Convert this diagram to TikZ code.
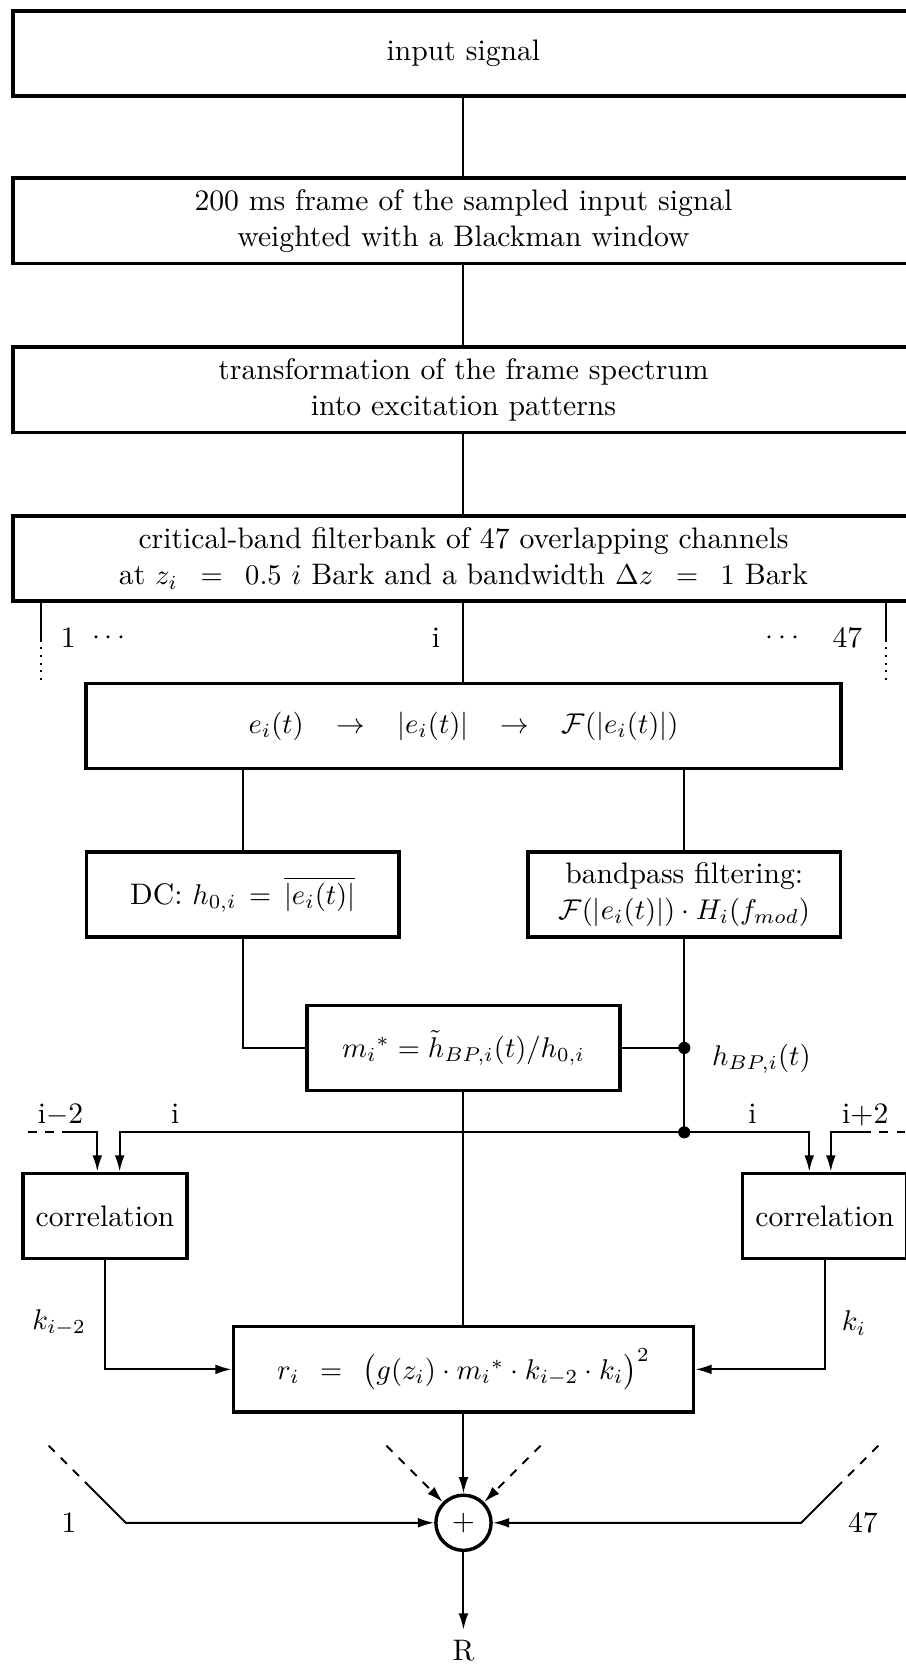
\documentclass[tikz,border=0pt]{standalone}
\usepackage{amsmath,amssymb}
\usetikzlibrary{positioning,arrows.meta}

\begin{document}
\begin{tikzpicture}[font=\fontsize{10.4}{12.6}\selectfont,
  blk/.style={draw,line width=1.2pt,align=center,minimum height=1.05cm,inner sep=2pt},
  ln/.style={line width=0.7pt},
  arr/.style={ln,-{Latex[length=2mm,width=1.2mm]}},
  lbl/.style={inner sep=1pt}]
\useasboundingbox (0,0) rectangle (11.15,-20.5);
\node[blk,minimum width=11.1cm] (sig) at (5.71,-0.66) {input signal};
\node[blk,minimum width=11.1cm] (frame) at (5.71,-2.72) {200 ms frame of the sampled input signal\\weighted with a Blackman window};
\node[blk,minimum width=11.1cm] (trans) at (5.71,-4.80) {transformation of the frame spectrum\\into excitation patterns};
\node[blk,minimum width=11.1cm] (fb) at (5.71,-6.88) {critical-band filterbank of 47 overlapping channels\\at $z_i\ \,=\ \,0.5\ i$ Bark and a bandwidth $\Delta z\ \,=\ \,1$ Bark};
\node[blk,minimum width=9.3cm] (env) at (5.71,-8.945) {$e_i(t)\ \ \,\to\ \ \,|e_i(t)|\ \ \,\to\ \ \,\mathcal{F}(|e_i(t)|)$};
\node[blk,minimum width=3.85cm] (dc) at (2.99,-11.02) {DC: $h_{0,i}\,=\,\overline{|e_i(t)|}$};
\node[blk,minimum width=3.85cm] (bp) at (8.43,-11.02) {bandpass filtering:\\$\mathcal{F}(|e_i(t)|)\cdot H_i(f_{mod})$};
\node[blk,minimum width=3.86cm] (mod) at (5.71,-12.91) {${m_i}^*=\tilde{h}_{BP,i}(t)/h_{0,i}$};
\node[blk,minimum width=2.02cm] (corl) at (1.294,-14.98) {correlation};
\node[blk,minimum width=2.02cm] (corr) at (10.16,-14.98) {correlation};
\node[blk,minimum width=5.67cm] (rbox) at (5.71,-16.87) {$r_i\,\;=\,\;\bigl(g(z_i)\cdot{m_i}^*\cdot k_{i-2}\cdot k_i\bigr)^2$};
\node[draw,circle,line width=1.2pt,minimum size=0.68cm,inner sep=0pt] (sum) at (5.71,-18.76) {+};
\node (R) at (5.71,-20.33) {R};

\draw[ln] (sig) -- (frame) -- (trans) -- (fb) -- (env);
\coordinate (ch1) at (0.51,-7.88); \coordinate (ch47) at (10.91,-7.88);
\draw[ln] (fb.south -| ch1) -- (ch1); \draw[ln,dotted] (ch1) -- ++(0,-0.5);
\draw[ln] (fb.south -| ch47) -- (ch47); \draw[ln,dotted] (ch47) -- ++(0,-0.5);
\node (n1) at (0.84,-7.86) {1}; \node (d1) at (1.37,-7.86) {$\cdots$}; \node (ni) at (5.37,-7.86) {i}; \node (d47) at (9.67,-7.86) {$\cdots$}; \node (n47) at (10.44,-7.86) {47};

\draw[ln] (env.south -| dc) -- (dc); \draw[ln] (env.south -| bp) -- (bp);
\draw[ln] (dc) |- (mod);
\coordinate (tap) at (bp.south |- mod.east); \coordinate (bus) at (8.43,-13.95);
\draw[ln] (bp) -- (tap) -- (bus); \draw[ln] (mod) -- (tap);
\fill (tap) circle (0.075); \fill (bus) circle (0.075);
\node[lbl,anchor=west] (hbp) at (8.73,-13.04) {$h_{BP,i}(t)$};
\draw[arr] (bus) -| ([xshift=0.18cm]corl.north);
\draw[arr] (bus) -| ([xshift=-0.19cm]corr.north);
\coordinate (im2a) at (0.345,-13.95); \coordinate (im2b) at (0.80,-13.95);
\draw[ln,dashed] (im2a) -- (im2b); \draw[arr] (im2b) -| ([xshift=-0.095cm]corl.north);
\coordinate (ip2a) at (11.15,-13.95); \coordinate (ip2b) at (10.63,-13.95);
\draw[ln,dashed] (ip2a) -- (ip2b); \draw[arr] (ip2b) -| ([xshift=0.075cm]corr.north);
\node[anchor=base] (lim2) at (0.745,-13.84) {i$-$2}; \node[anchor=base] (lil) at (2.16,-13.84) {i};
\node[anchor=base] (lir) at (9.27,-13.84) {i}; \node[anchor=base] (lip2) at (10.66,-13.84) {i+2};
\draw[ln] (mod) -- (rbox);
\draw[arr] (corl) |- (rbox); \draw[arr] (corr) |- (rbox);
\node (kl) at (0.73,-16.30) {$k_{i-2}$}; \node (kr) at (10.52,-16.30) {$k_i$};

\draw[arr] (rbox) -- (sum); \draw[arr] (sum) -- (R);
\coordinate (a1) at (0.6,-17.81); \coordinate (b1) at (1.05,-18.26); \coordinate (c1) at (1.55,-18.76);
\coordinate (a47) at (10.82,-17.81); \coordinate (b47) at (10.37,-18.26); \coordinate (c47) at (9.87,-18.76);
\draw[ln,dashed] (a1) -- (b1); \draw[arr] (b1) -- (c1) -- (sum);
\draw[ln,dashed] (a47) -- (b47); \draw[arr] (b47) -- (c47) -- (sum);
\coordinate (m1) at (4.76,-17.81); \coordinate (m2) at (6.66,-17.81);
\draw[arr,dashed] (m1) -- (sum); \draw[arr,dashed] (m2) -- (sum);
\node (s1) at (0.85,-18.76) {1}; \node (s47) at (10.63,-18.76) {47};
\end{tikzpicture}
\end{document}
